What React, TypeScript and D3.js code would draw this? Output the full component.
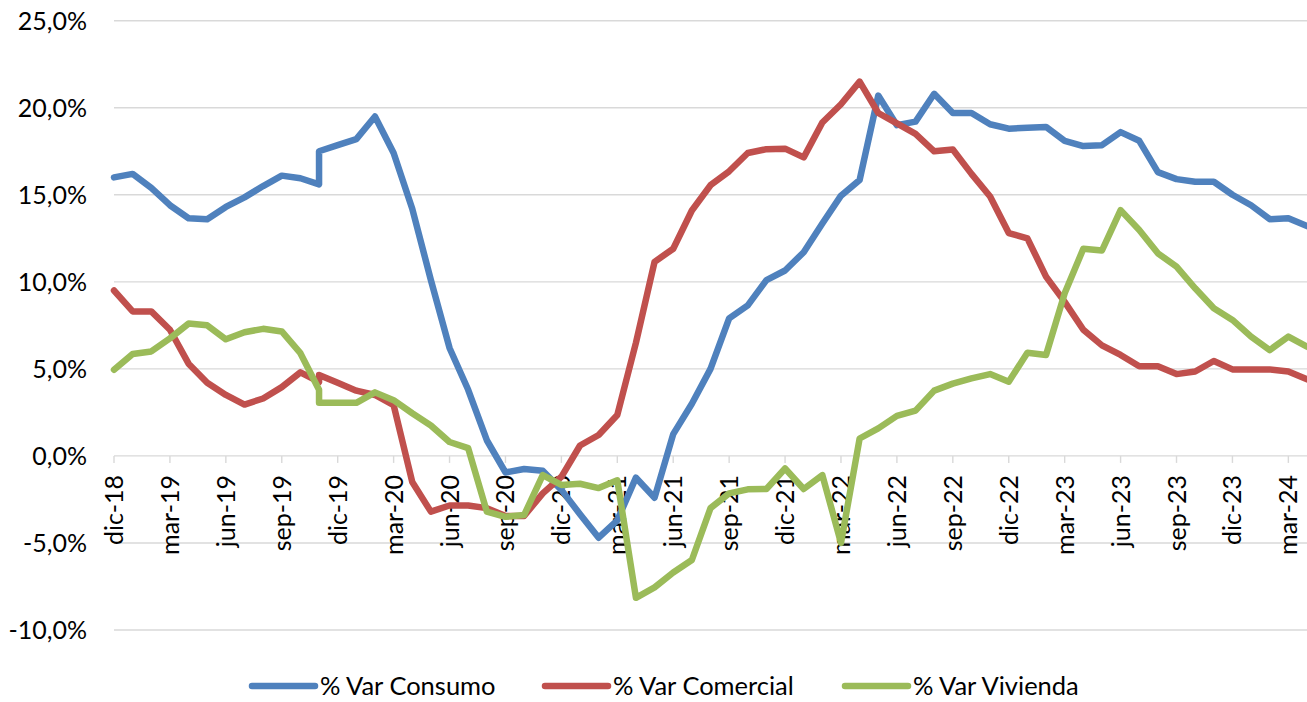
import React from 'react'
import * as d3 from 'd3'

// Monthly observations; nov-19 appears twice in the source (vertical jump)
const months = [
  '2018-12',
  '2019-01', '2019-02', '2019-03', '2019-04', '2019-05', '2019-06',
  '2019-07', '2019-08', '2019-09', '2019-10', '2019-11', '2019-11', '2019-12',
  '2020-01', '2020-02', '2020-03', '2020-04', '2020-05', '2020-06',
  '2020-07', '2020-08', '2020-09', '2020-10', '2020-11', '2020-12',
  '2021-01', '2021-02', '2021-03', '2021-04', '2021-05', '2021-06',
  '2021-07', '2021-08', '2021-09', '2021-10', '2021-11', '2021-12',
  '2022-01', '2022-02', '2022-03', '2022-04', '2022-05', '2022-06',
  '2022-07', '2022-08', '2022-09', '2022-10', '2022-11', '2022-12',
  '2023-01', '2023-02', '2023-03', '2023-04', '2023-05', '2023-06',
  '2023-07', '2023-08', '2023-09', '2023-10', '2023-11', '2023-12',
  '2024-01', '2024-02', '2024-03', '2024-04',
]

const consumo = [
  16.0,
  16.2, 15.4, 14.4, 13.65, 13.6, 14.3,
  14.85, 15.5, 16.1, 15.95, 15.6, 17.5, 17.85,
  18.2, 19.5, 17.4, 14.2, 10.1, 6.2,
  3.8, 0.9, -0.95, -0.75, -0.85, -1.95,
  -3.35, -4.7, -3.7, -1.25, -2.4, 1.25,
  3.0, 5.0, 7.9, 8.65, 10.1, 10.65,
  11.7, 13.35, 14.95, 15.85, 20.7, 19.0,
  19.2, 20.8, 19.7, 19.7, 19.05, 18.8,
  18.85, 18.9, 18.1, 17.8, 17.85, 18.6,
  18.1, 16.3, 15.9, 15.75, 15.75, 15.0,
  14.4, 13.6, 13.65, 13.2,
]

const comercial = [
  9.5,
  8.3, 8.3, 7.25, 5.3, 4.2, 3.5,
  2.95, 3.3, 3.95, 4.8, 4.25, 4.65, 4.2,
  3.75, 3.5, 2.92, -1.5, -3.2, -2.85,
  -2.85, -3.0, -3.45, -3.45, -2.15, -1.2,
  0.6, 1.2, 2.35, 6.5, 11.15, 11.9,
  14.1, 15.55, 16.35, 17.4, 17.62, 17.65,
  17.15, 19.15, 20.2, 21.5, 19.7, 19.1,
  18.5, 17.5, 17.6, 16.2, 14.9, 12.8,
  12.5, 10.3, 8.85, 7.25, 6.35, 5.8,
  5.15, 5.15, 4.7, 4.85, 5.45, 4.97,
  4.97, 4.97, 4.85, 4.4,
]

const vivienda = [
  4.95,
  5.85, 6.0, 6.75, 7.6, 7.5, 6.7,
  7.1, 7.3, 7.15, 5.9, 3.8, 3.05, 3.05,
  3.05, 3.65, 3.2, 2.45, 1.75, 0.8,
  0.45, -3.2, -3.5, -3.4, -1.1, -1.67,
  -1.6, -1.85, -1.4, -8.15, -7.55, -6.7,
  -5.98, -3.0, -2.15, -1.92, -1.9, -0.72,
  -1.9, -1.1, -5.0, 1.0, 1.58, 2.3,
  2.6, 3.75, 4.15, 4.45, 4.7, 4.26,
  5.93, 5.8, 9.34, 11.9, 11.8, 14.12,
  12.98, 11.64, 10.87, 9.63, 8.48, 7.81,
  6.85, 6.08, 6.85, 6.27,
]

const tickLabels = [
  'dic-18', 'mar-19', 'jun-19', 'sep-19', 'dic-19', 'mar-20', 'jun-20', 'sep-20',
  'dic-20', 'mar-21', 'jun-21', 'sep-21', 'dic-21', 'mar-22', 'jun-22', 'sep-22',
  'dic-22', 'mar-23', 'jun-23', 'sep-23', 'dic-23', 'mar-24',
]

const yTicks = [-10, -5, 0, 5, 10, 15, 20, 25]

const seriesNames = ['% Var Consumo', '% Var Comercial', '% Var Vivienda']
const seriesColors = ['#4F81BD', '#C0504D', '#9BBB59']
const seriesValues = [consumo, comercial, vivienda]

const W = 1307
const H = 702
const FONT = 'Lato, "Open Sans", sans-serif'

// months since dic-18
const monthIndex = (key: string) => {
  const [y, m] = key.split('-').map(Number)
  return (y - 2018) * 12 + (m - 1) - 11
}

const esLocale = d3.formatLocale({
  decimal: ',',
  thousands: '.',
  grouping: [3],
  currency: ['', '€'],
  minus: '-',
})
const pct = (v: number) => esLocale.format('.1f')(v) + '%'

export default function App() {
  const x = d3.scaleLinear().domain([0, 64]).range([114, 1307])
  const y = d3.scaleLinear().domain([-10, 25]).range([630, 20.7])

  const line = d3
    .line<number>()
    .x((_, i) => x(monthIndex(months[i])))
    .y(d => y(d))

  const legendX = [252, 545, 845]

  return (
    <div style={{ position: 'absolute', left: 0, top: 0 }}>
      <svg width={W} height={H} style={{ display: 'block', fontFamily: FONT }}>
        {/* gridlines */}
        {yTicks.map(t => (
          <line
            key={t}
            x1={x(0)}
            x2={x(64)}
            y1={y(t)}
            y2={y(t)}
            stroke="#d9d9d9"
            strokeWidth={1.4}
          />
        ))}

        {/* y labels */}
        {yTicks.map(t => (
          <text
            key={t}
            x={87}
            y={y(t)}
            dy="0.36em"
            textAnchor="end"
            fontSize={25}
            fill="#000"
          >
            {pct(t)}
          </text>
        ))}

        {/* x tick marks + labels at the zero line */}
        {tickLabels.map((lab, k) => {
          const tx = x(k * 3)
          return (
            <g key={lab}>
              <line x1={tx} x2={tx} y1={y(0)} y2={y(0) + 7} stroke="#d9d9d9" strokeWidth={1.4} />
              <text
                transform={`translate(${tx},475) rotate(-90)`}
                dy="0.36em"
                textAnchor="end"
                fontSize={25}
                fill="#000"
              >
                {lab}
              </text>
            </g>
          )
        })}

        {/* series */}
        {seriesValues.map((vals, s) => (
          <path
            key={s}
            d={line(vals) || ''}
            fill="none"
            stroke={seriesColors[s]}
            strokeWidth={6.5}
            strokeLinejoin="round"
            strokeLinecap="round"
          />
        ))}

        {/* legend */}
        {seriesNames.map((name, s) => (
          <g key={name} transform={`translate(${legendX[s]},686)`}>
            <line x1={0} x2={63} y1={0} y2={0} stroke={seriesColors[s]} strokeWidth={6.5} strokeLinecap="round" />
            <text x={68} y={0} dy="0.36em" fontSize={25.5} fill="#000">
              {name}
            </text>
          </g>
        ))}
      </svg>
    </div>
  )
}
